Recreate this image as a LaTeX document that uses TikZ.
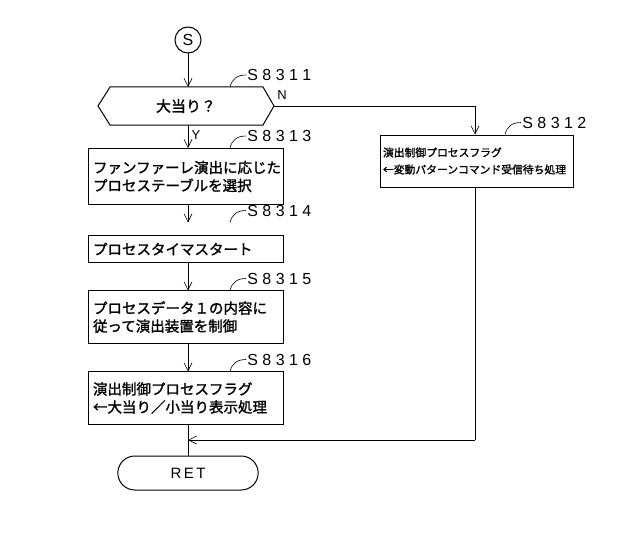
\documentclass[tikz,border=0pt]{standalone}
\usepackage{fontspec}
\setmainfont{Noto Sans CJK JP}[FakeBold=1.5]
\newfontfamily\lab{Liberation Sans}
\usetikzlibrary{shapes.misc,arrows.meta}
\begin{document}
\begin{tikzpicture}[x=1pt,y=-1pt,
  box/.style={draw,line width=1pt,align=left,font=\fontsize{14.5}{18}\selectfont,inner sep=4pt},
  lbl/.style={font=\lab\fontsize{16}{16}\selectfont,anchor=west},
  arr/.style={-{Straight Barb[length=8pt,width=8pt]},line width=0.6pt},
  ln/.style={line width=0.6pt}]
\useasboundingbox (0,0) rectangle (640,543);
\node[draw,circle,line width=1pt,minimum size=26pt,inner sep=0pt,font=\lab\fontsize{16}{16}\selectfont] (s) at (188,40) {S};
\draw[line width=1pt] (98,106) -- (110,87) -- (263,87) -- (274,106) -- (263,125) -- (110,125) -- cycle;
\node[font=\fontsize{15}{18}\selectfont] (d) at (186,106) {大当り？};
\coordinate (dr) at (274,106);
\coordinate (dt) at (188,87);
\coordinate (db) at (188,125);
\node[box,minimum width=195pt,minimum height=56pt,text width=185pt] (b1) at (185.5,176.5) {ファンファーレ演出に応じた\\プロセステーブルを選択};
\node[box,minimum width=195pt,minimum height=27pt,text width=185pt] (b2) at (185.5,249) {プロセスタイマスタート};
\node[box,minimum width=195pt,minimum height=53pt,text width=185pt] (b3) at (185.5,317) {プロセスデータ１の内容に\\従って演出装置を制御};
\node[box,minimum width=195pt,minimum height=53pt,text width=185pt] (b4) at (185.5,398) {演出制御プロセスフラグ\\←大当り／小当り表示処理};
\node[box,minimum width=193pt,minimum height=52pt,text width=187pt,inner sep=3pt,font=\fontsize{10.8}{17}\selectfont] (r) at (476.5,161) {演出制御プロセスフラグ\\←変動パターンコマンド受信待ち処理};
\node[draw,rounded rectangle,line width=1pt,minimum width=147pt,minimum height=34pt,font=\lab\fontsize{15}{15}\selectfont] (ret) at (188,473) {R\,E\,T};
\coordinate (m) at (188,440);
\coordinate (rc) at (475,106);
\coordinate (rb) at (475,440);
\draw[arr] (s) -- (dt);
\draw[arr] (db) -- (188,148) node[pos=0.45,right,font=\lab\fontsize{13}{13}\selectfont]{Y};
\draw[arr] (188,205) -- (188,222.5);
\draw[arr] (188,262.5) -- (188,290.5);
\draw[arr] (188,343.5) -- (188,371.5);
\draw[ln] (188,424.5) -- (ret.north);
\draw[ln] (dr) -- (rc);
\draw[arr] (rc) -- (r.north -| rc);
\node[font=\lab\fontsize{13}{13}\selectfont] at (282,95) {N};
\draw[ln] (r.south -| rc) -- (rb);
\draw[arr] (rb) -- (m);
\foreach \x/\y/\t in {235/87/S\ 8\ 3\ 1\ 1, 235/148/S\ 8\ 3\ 1\ 3, 235/222.5/S\ 8\ 3\ 1\ 4, 235/290.5/S\ 8\ 3\ 1\ 5, 235/371.5/S\ 8\ 3\ 1\ 6, 510/134.5/S\ 8\ 3\ 1\ 2}{
  \draw[ln] (\x-5,\y) .. controls (\x-3,\y-8) and (\x+2,\y-12) .. (\x+11,\y-12) node[lbl,inner sep=1pt]{\t};
}
\end{tikzpicture}
\end{document}
